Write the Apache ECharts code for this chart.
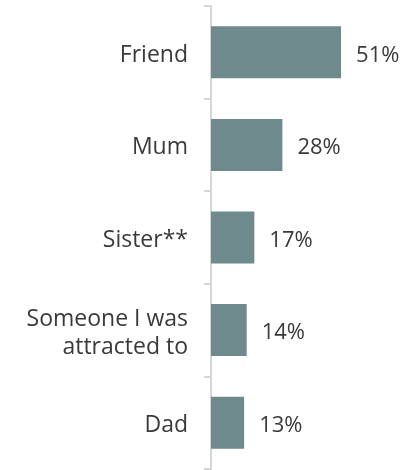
<!DOCTYPE html>
<html><head><meta charset="utf-8">
<script src="https://cdn.jsdelivr.net/npm/echarts@6/dist/echarts.min.js"></script>
<style>html,body{margin:0;padding:0;background:#fff}#c{width:410px;height:470px}</style>
</head><body><div id="c"></div>
<script>
const categories = ['Friend', 'Mum', 'Sister**', 'Someone I was\nattracted to', 'Dad'];
const values = [51, 28, 17, 14, 13];

const chart = echarts.init(document.getElementById('c'), null, {renderer: 'canvas'});
chart.setOption({
  animation: false,
  grid: {left: 211, top: 6, width: 153, height: 463, containLabel: false},
  xAxis: {type: 'value', min: 0, max: 60, show: false},
  yAxis: {
    type: 'category', data: categories, inverse: true,
    axisLine: {lineStyle: {color: '#d6d6d6', width: 2}},
    axisTick: {show: true, length: 7, lineStyle: {color: '#d6d6d6', width: 2}},
    axisLabel: {
      margin: 23, color: '#3a3a3a', fontFamily: 'Open Sans', fontSize: 23, lineHeight: 28, align: 'right',
      formatter: v => '{p|}\n' + v.split('\n').map(s => '{a|' + s + '}').join('\n'),
      rich: {
        a: {fontFamily: 'Open Sans', fontSize: 23, lineHeight: 28, color: '#3a3a3a'},
        p: {fontSize: 1, lineHeight: 6}
      }
    }
  },
  series: [{
    type: 'bar', data: values, barWidth: 52,
    itemStyle: {color: '#6f8a8c'},
    label: {show: true, position: 'right', distance: 15, formatter: '{c}%', color: '#3a3a3a', fontFamily: 'Open Sans', fontSize: 22, offset: [0, 3]}
  }]
});
</script></body></html>
